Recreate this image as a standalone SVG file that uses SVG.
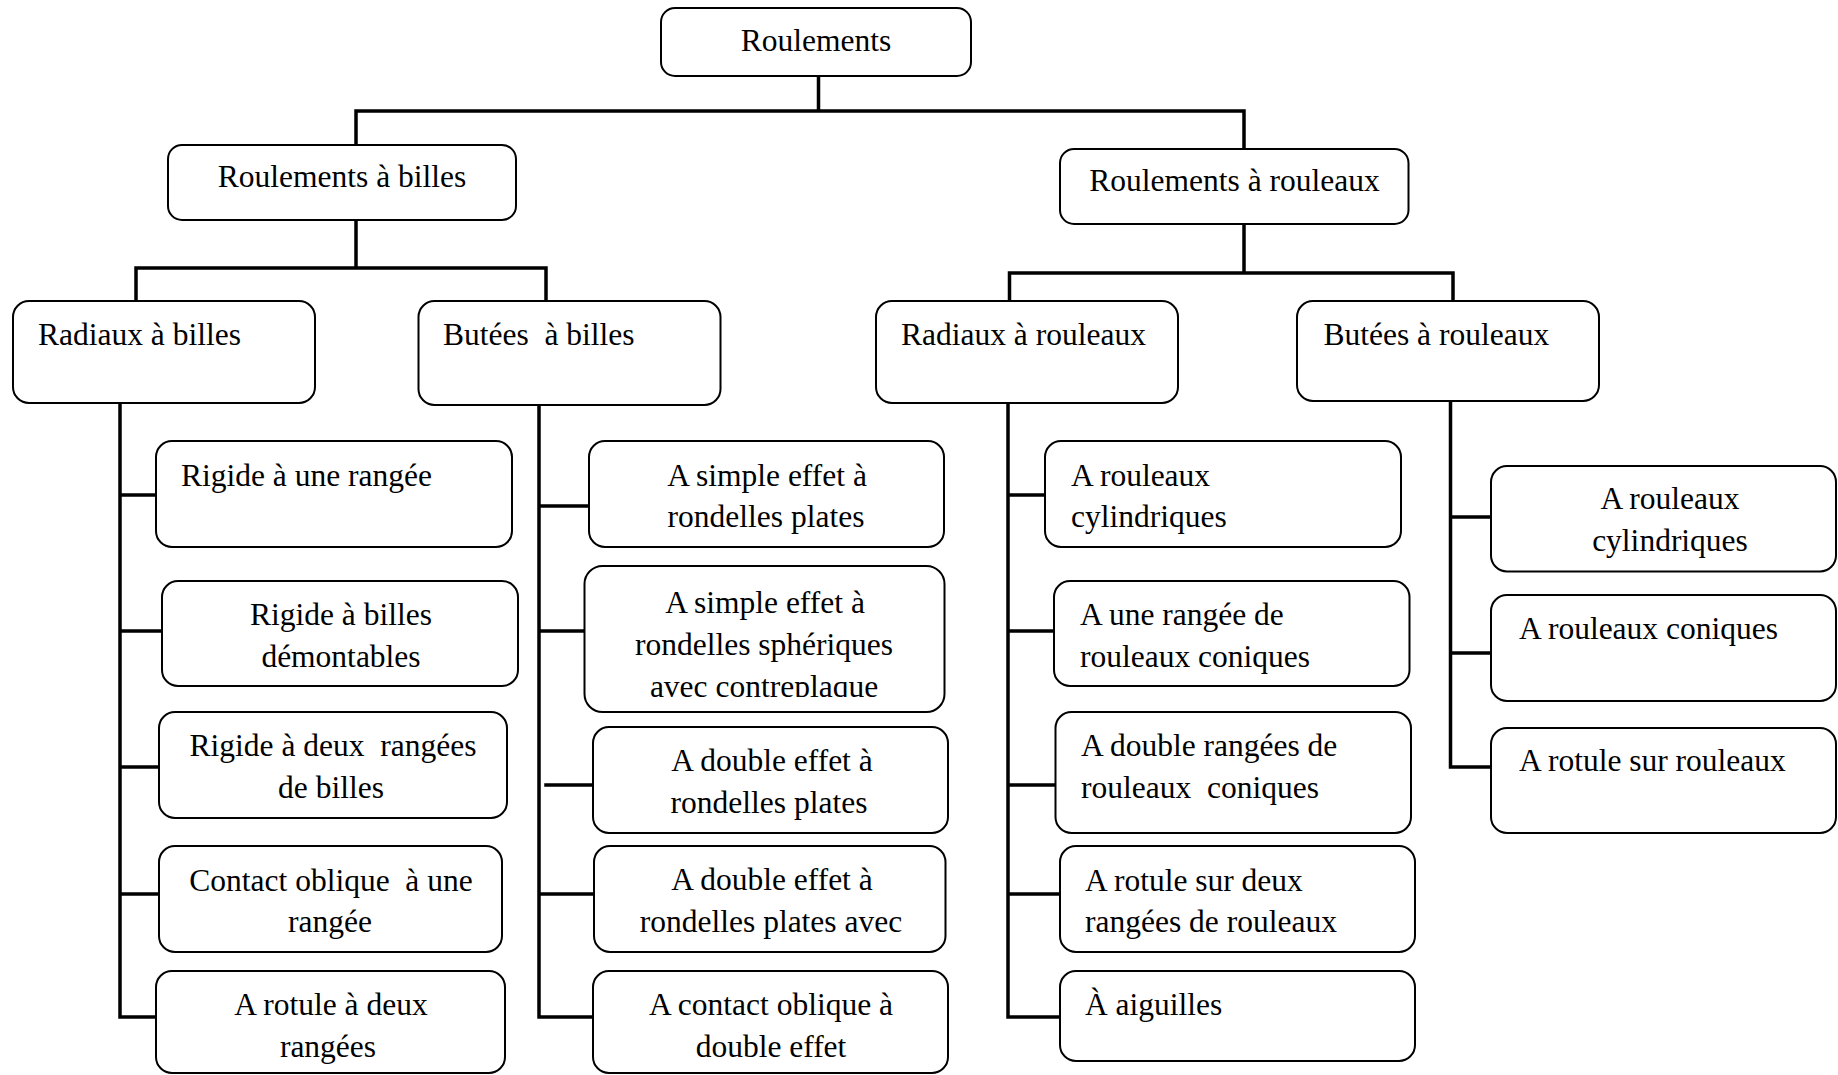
<svg xmlns="http://www.w3.org/2000/svg" width="1838" height="1075" viewBox="0 0 1838 1075">
<style>
.box{fill:#fff;stroke:#000;stroke-width:2}
.t{font-family:"Liberation Serif","Times New Roman",serif;font-size:31.5px;fill:#000;white-space:pre}
.c{text-anchor:middle}
.con{fill:none;stroke:#000;stroke-width:3.5;stroke-linecap:square}
</style>
<defs>
<clipPath id="clipM2"><rect x="580" y="560" width="370" height="137"/></clipPath>
</defs>
<rect width="1838" height="1075" fill="#fff"/>
<g id="connectors">
<path class="con" d="M818.5 76V111M356 111H1244M356 111V145M1244 111V149"/>
<path class="con" d="M356 220V268M136 268H546M136 268V301M546 268V301"/>
<path class="con" d="M1244 224V273M1009.5 273H1453M1009.5 273V301M1453 273V301"/>
<path class="con" d="M120 403V1017M120 495H156M120 631H162M120 767H159M120 894H159M120 1017H156"/>
<path class="con" d="M539 405V1017M539 506H589M539 631H584M546 785H593M539 894H594M539 1017H593"/>
<path class="con" d="M1008 403V1017M1008 495H1045M1008 631H1054M1008 785H1055M1008 894H1060M1008 1017H1060"/>
<path class="con" d="M1450.5 401V767M1450.5 517H1491M1450.5 653H1491M1450.5 767H1491"/>
</g>
<g id="n-roulements"><rect class="box" x="661" y="8" width="310" height="68" rx="14"/><text class="t c" x="816" y="51">Roulements</text></g>
<g id="n-billes"><rect class="box" x="168" y="145" width="348" height="75" rx="14"/><text class="t c" x="342" y="187">Roulements à billes</text></g>
<g id="n-rouleaux"><rect class="box" x="1060" y="149" width="348.5" height="75" rx="14"/><text class="t c" x="1234.5" y="191">Roulements à rouleaux</text></g>
<g id="n-radiaux-billes"><rect class="box" x="13" y="301" width="302" height="102" rx="16"/><text class="t" x="38" y="345">Radiaux à billes</text></g>
<g id="n-butees-billes"><rect class="box" x="418.5" y="301" width="302" height="104" rx="16"/><text class="t" x="443" y="345">Butées  à billes</text></g>
<g id="n-radiaux-rouleaux"><rect class="box" x="876" y="301" width="302" height="102" rx="16"/><text class="t" x="901" y="345">Radiaux à rouleaux</text></g>
<g id="n-butees-rouleaux"><rect class="box" x="1297" y="301" width="302" height="100" rx="16"/><text class="t" x="1323.5" y="345">Butées à rouleaux</text></g>

<g id="n-l1"><rect class="box" x="156" y="441" width="356" height="106" rx="16"/><text class="t" x="181" y="486">Rigide à une rangée</text></g>
<g id="n-l2"><rect class="box" x="162" y="581" width="356" height="105" rx="16"/><text class="t c" x="341" y="625">Rigide à billes</text><text class="t c" x="341" y="666.5">démontables</text></g>
<g id="n-l3"><rect class="box" x="159" y="712" width="348" height="106" rx="16"/><text class="t c" x="333" y="756">Rigide à deux  rangées</text><text class="t c" x="331" y="798">de billes</text></g>
<g id="n-l4"><rect class="box" x="159" y="846" width="343" height="106" rx="16"/><text class="t c" x="331" y="891">Contact oblique  à une</text><text class="t c" x="330" y="932">rangée</text></g>
<g id="n-l5"><rect class="box" x="156" y="971" width="349" height="102" rx="16"/><text class="t c" x="331" y="1015">A rotule à deux</text><text class="t c" x="328" y="1057">rangées</text></g>

<g id="n-m1"><rect class="box" x="589" y="441" width="355" height="106" rx="16"/><text class="t c" x="767" y="486">A simple effet à</text><text class="t c" x="766" y="527">rondelles plates</text></g>
<g id="n-m2"><rect class="box" x="584.5" y="566" width="360" height="146" rx="18"/><g clip-path="url(#clipM2)"><text class="t c" x="765" y="613">A simple effet à</text><text class="t c" x="764" y="655">rondelles sphériques</text><text class="t c" x="764" y="697">avec contreplaque</text></g></g>
<g id="n-m3"><rect class="box" x="593" y="727" width="355" height="106" rx="16"/><text class="t c" x="772" y="771">A double effet à</text><text class="t c" x="769" y="813">rondelles plates</text></g>
<g id="n-m4"><rect class="box" x="594" y="846" width="351.5" height="106" rx="16"/><text class="t c" x="772" y="890">A double effet à</text><text class="t c" x="771" y="932">rondelles plates avec</text></g>
<g id="n-m5"><rect class="box" x="593" y="971" width="355" height="102" rx="16"/><text class="t c" x="771" y="1015">A contact oblique à</text><text class="t c" x="771" y="1057">double effet</text></g>

<g id="n-r1"><rect class="box" x="1045" y="441" width="356" height="106" rx="16"/><text class="t" x="1071" y="486">A rouleaux</text><text class="t" x="1071" y="527">cylindriques</text></g>
<g id="n-r2"><rect class="box" x="1054" y="581" width="355.5" height="105" rx="16"/><text class="t" x="1080" y="625">A une rangée de</text><text class="t" x="1080" y="666.5">rouleaux coniques</text></g>
<g id="n-r3"><rect class="box" x="1055.5" y="712" width="355.5" height="121" rx="16"/><text class="t" x="1081" y="756">A double rangées de</text><text class="t" x="1081" y="798">rouleaux  coniques</text></g>
<g id="n-r4"><rect class="box" x="1060" y="846" width="355" height="106" rx="16"/><text class="t" x="1085" y="891">A rotule sur deux</text><text class="t" x="1085" y="932">rangées de rouleaux</text></g>
<g id="n-r5"><rect class="box" x="1060" y="971" width="355" height="90" rx="16"/><text class="t" x="1085" y="1015">À aiguilles</text></g>

<g id="n-b1"><rect class="box" x="1491" y="466" width="345" height="105.5" rx="16"/><text class="t c" x="1670" y="509">A rouleaux</text><text class="t c" x="1670" y="551">cylindriques</text></g>
<g id="n-b2"><rect class="box" x="1491" y="595" width="345" height="106" rx="16"/><text class="t" x="1519" y="638.5">A rouleaux coniques</text></g>
<g id="n-b3"><rect class="box" x="1491" y="728" width="345" height="105" rx="16"/><text class="t" x="1519" y="771">A rotule sur rouleaux</text></g>
</svg>
